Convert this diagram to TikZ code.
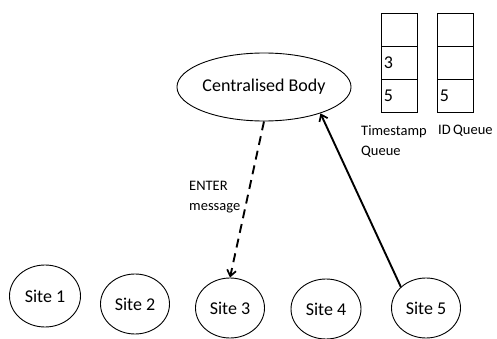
\documentclass[tikz,border=0pt]{standalone}
\usepackage{fontspec}
\setmainfont{Carlito}
\usetikzlibrary{shapes.geometric,arrows.meta}
\tikzset{
  bigtext/.style={font=\fontsize{18}{20}\selectfont},
  smalltext/.style={font=\fontsize{14.5}{20}\selectfont},
  sitenode/.style={draw, ellipse, line width=0.9pt, inner sep=0pt,
                   minimum width=69pt, minimum height=60pt, bigtext},
  cell/.style={draw, rectangle, line width=0.9pt, inner sep=0pt,
               minimum width=36pt, minimum height=33pt},
  cellnum/.style={anchor=west, inner sep=0pt, bigtext},
  msg/.style={line width=1.9pt, -{Straight Barb[length=6pt,width=9pt,line width=1.7pt]}}
}
\begin{document}
\begin{tikzpicture}[x=1pt,y=-1pt]
  \useasboundingbox (0,0) rectangle (497,339);

  % central coordinator
  \node[draw, ellipse, line width=0.9pt, inner sep=0pt,
        minimum width=162pt, minimum height=68pt, bigtext] (cb) at (264,87) {Centralised Body};

  % sites
  \node[sitenode, minimum width=71pt, minimum height=62pt] (s1) at (45,296) {Site 1};
  \node[sitenode] (s2) at (135,304) {Site 2};
  \node[sitenode] (s3) at (230,308) {Site 3};
  \node[sitenode, minimum width=70pt] (s4) at (326,309) {Site 4};
  \node[sitenode] (s5) at (426,308) {Site 5};

  % timestamp queue
  \node[cell] (t1) at (399,29.5) {};
  \node[cell] (t2) at (399,62.5) {};
  \node[cell] (t3) at (399,95.5) {};
  \node[cellnum] (t2n) at ([xshift=3pt]t2.west) {3};
  \node[cellnum] (t3n) at ([xshift=3pt]t3.west) {5};

  % id queue
  \node[cell] (i1) at (455,29.5) {};
  \node[cell] (i2) at (455,62.5) {};
  \node[cell] (i3) at (455,95.5) {};
  \node[cellnum] (i3n) at ([xshift=3pt]i3.west) {5};

  % queue captions
  \node[smalltext, align=left, anchor=north west, inner sep=0pt] (tlab) at (361,125) {Timestamp\\Queue};
  \node[smalltext, anchor=north west, inner sep=0pt] (ilab) at (438,125) {ID\,Queue};

  % messages
  \draw[msg, dash pattern=on 9pt off 6pt] (cb.south) -- (s3.north);
  \draw[msg] (s5.140) -- (cb.-25);

  \node[smalltext, align=left, anchor=north west, inner sep=0pt] (elab) at (189,181) {ENTER\\message};
\end{tikzpicture}
\end{document}
